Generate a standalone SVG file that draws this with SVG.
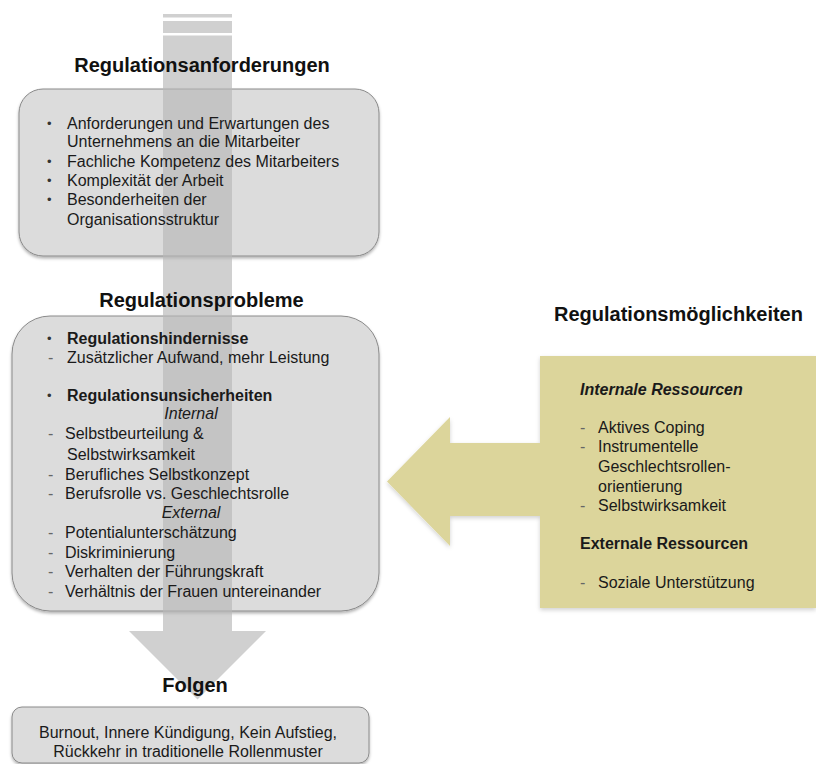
<svg xmlns="http://www.w3.org/2000/svg" width="816" height="764" viewBox="0 0 816 764">
<defs>
<filter id="sh" x="-5%" y="-5%" width="110%" height="115%">
<feDropShadow dx="0" dy="2" stdDeviation="1.5" flood-color="#000" flood-opacity="0.3"/>
</filter>
<filter id="shy" x="-5%" y="-5%" width="110%" height="115%">
<feDropShadow dx="0" dy="2" stdDeviation="2" flood-color="#000" flood-opacity="0.18"/>
</filter>
</defs>
<style>
text{font-family:"Liberation Sans",Arial,sans-serif;fill:#1a1a1a}
.t{font-size:20px;font-weight:bold;fill:#111}
.b{font-size:16px}
.bd{font-weight:bold}
.it{font-style:italic}
.box{fill:#dcdcdc;stroke:#8a8a8a;stroke-width:1}
.dash{fill:#666}
.bul{font-size:13px;fill:#333}
.arr{fill:#b8b8b8;fill-opacity:0.66}
</style>
<rect width="816" height="764" fill="#ffffff"/>

<g id="box-anforderungen">
<rect class="box" x="19" y="89" width="360" height="167" rx="24" filter="url(#sh)"/>
</g>
<g id="box-probleme">
<rect class="box" x="12" y="316" width="367" height="295" rx="38" filter="url(#sh)"/>
</g>
<g id="box-folgen">
<rect class="box" x="12" y="707" width="357" height="56" rx="10" filter="url(#sh)"/>
</g>

<g id="connectors">
<g id="arrow-main">
<rect class="arr" x="163" y="14" width="69" height="3.5" fill-opacity="0.5"/>
<rect class="arr" x="163" y="21" width="69" height="12"/>
<path class="arr" d="M163,35.5 H232 V631 H266 L197.5,699.5 L129,631 H163 Z"/>
</g>
<g id="arrow-moeglichkeiten">
<path d="M540,356 H816 V608 H540 V516 H450 V546 L387,481.5 L450,417 V443 H540 Z" fill="#dcd59b" filter="url(#shy)"/>
</g>
</g>

<g id="text-anforderungen">
<text class="t" x="202" y="72" text-anchor="middle">Regulationsanforderungen</text>
<text class="bul" x="47" y="128">•</text>
<text class="b" x="67" y="129">Anforderungen und Erwartungen des</text>
<text class="b" x="67" y="147">Unternehmens an die Mitarbeiter</text>
<text class="bul" x="47" y="166">•</text>
<text class="b" x="67" y="167">Fachliche Kompetenz des Mitarbeiters</text>
<text class="bul" x="47" y="185">•</text>
<text class="b" x="67" y="186">Komplexität der Arbeit</text>
<text class="bul" x="47" y="204">•</text>
<text class="b" x="67" y="205">Besonderheiten der</text>
<text class="b" x="67" y="225">Organisationsstruktur</text>
</g>

<g id="text-probleme">
<text class="t" x="201.5" y="307" text-anchor="middle">Regulationsprobleme</text>
<text class="bul" x="47" y="343">•</text>
<text class="b bd" x="67" y="344">Regulationshindernisse</text>
<text class="b dash" x="48" y="363">-</text>
<text class="b" x="67" y="363">Zusätzlicher Aufwand, mehr Leistung</text>
<text class="bul" x="47" y="400">•</text>
<text class="b bd" x="67" y="401">Regulationsunsicherheiten</text>
<text class="b it" x="191" y="419" text-anchor="middle">Internal</text>
<text class="b dash" x="48" y="439">-</text>
<text class="b" x="65" y="439">Selbstbeurteilung &amp;</text>
<text class="b" x="67" y="460">Selbstwirksamkeit</text>
<text class="b dash" x="48" y="480">-</text>
<text class="b" x="65" y="480">Berufliches Selbstkonzept</text>
<text class="b dash" x="48" y="499">-</text>
<text class="b" x="65" y="499">Berufsrolle vs. Geschlechtsrolle</text>
<text class="b it" x="191" y="518" text-anchor="middle">External</text>
<text class="b dash" x="48" y="538">-</text>
<text class="b" x="65" y="538">Potentialunterschätzung</text>
<text class="b dash" x="48" y="558">-</text>
<text class="b" x="65" y="558">Diskriminierung</text>
<text class="b dash" x="48" y="577">-</text>
<text class="b" x="65" y="577">Verhalten der Führungskraft</text>
<text class="b dash" x="48" y="597">-</text>
<text class="b" x="65" y="597">Verhältnis der Frauen untereinander</text>
</g>

<g id="text-folgen">
<text class="t" x="195" y="692" text-anchor="middle">Folgen</text>
<text class="b" x="188" y="738" text-anchor="middle">Burnout, Innere Kündigung, Kein Aufstieg,</text>
<text class="b" x="188" y="757" text-anchor="middle">Rückkehr in traditionelle Rollenmuster</text>
</g>

<g id="text-moeglichkeiten">
<text class="t" x="678.5" y="321" text-anchor="middle">Regulationsmöglichkeiten</text>
<text class="b bd it" x="580" y="395">Internale Ressourcen</text>
<text class="b dash" x="580" y="433">-</text>
<text class="b" x="598" y="433">Aktives Coping</text>
<text class="b dash" x="580" y="452">-</text>
<text class="b" x="598" y="452">Instrumentelle</text>
<text class="b" x="598" y="472">Geschlechtsrollen-</text>
<text class="b" x="598" y="492">orientierung</text>
<text class="b dash" x="580" y="511">-</text>
<text class="b" x="598" y="511">Selbstwirksamkeit</text>
<text class="b bd" x="580" y="549">Externale Ressourcen</text>
<text class="b dash" x="580" y="588">-</text>
<text class="b" x="598" y="588">Soziale Unterstützung</text>
</g>
</svg>
